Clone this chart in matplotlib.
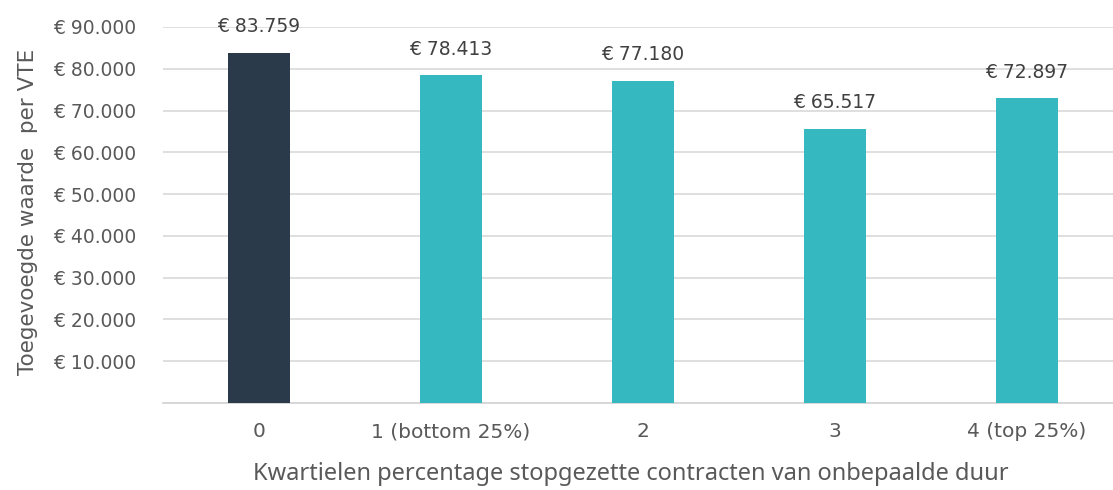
import matplotlib.pyplot as plt
from matplotlib.ticker import FuncFormatter

categories = ['0', '1 (bottom 25%)', '2', '3', '4 (top 25%)']
values = [83759, 78413, 77180, 65517, 72897]
bar_colors = ['#2a3a4b', '#35b8bf', '#35b8bf', '#35b8bf', '#35b8bf']
y_ticks = [10000, 20000, 30000, 40000, 50000, 60000, 70000, 80000, 90000]


def euro(v, pos=None):
    return '€ ' + '{:,.0f}'.format(v).replace(',', '.')


fig = plt.figure(figsize=(11.13, 4.9), dpi=100)
ax = fig.add_axes([163 / 1113, 87 / 490, 960 / 1113, 376 / 490])

x = range(len(categories))
ax.bar(x, values, width=0.32, color=bar_colors, zorder=3)

for i, v in enumerate(values):
    ax.annotate(euro(v), (i, v), xytext=(0, 19), textcoords='offset points',
                ha='center', va='center', fontsize=13.5, color='#404040',
                family='DejaVu Sans', annotation_clip=False)

ax.set_xlim(-0.5, 4.5)
ax.set_ylim(0, 90000)
ax.set_yticks(y_ticks)
ax.yaxis.set_major_formatter(FuncFormatter(euro))
ax.set_xticks(list(x))
ax.set_xticklabels(categories)

ax.grid(axis='y', color='#d9d9d9', lw=1.2, zorder=0)
for s in ['top', 'right', 'left']:
    ax.spines[s].set_visible(False)
ax.spines['bottom'].set_color('#d0d0d0')
ax.spines['bottom'].set_linewidth(1.2)

ax.tick_params(axis='y', length=0, pad=19, labelsize=13.5, labelcolor='#595959')
ax.tick_params(axis='x', length=0, pad=14, labelsize=14.5, labelcolor='#595959')
for lab in ax.get_xticklabels() + ax.get_yticklabels():
    lab.set_family('DejaVu Sans')

ax.set_xlabel('Kwartielen percentage stopgezette contracten van onbepaalde duur',
              fontsize=17, color='#595959', family='Noto Sans', va='center')
ax.xaxis.set_label_coords(0.487, -0.19)
ax.set_ylabel('Toegevoegde waarde  per VTE', fontsize=15.5, color='#595959',
              family='DejaVu Sans', va='center')
ax.yaxis.set_label_coords(-0.141, 0.508)

fig.savefig('out.png', dpi=100)
